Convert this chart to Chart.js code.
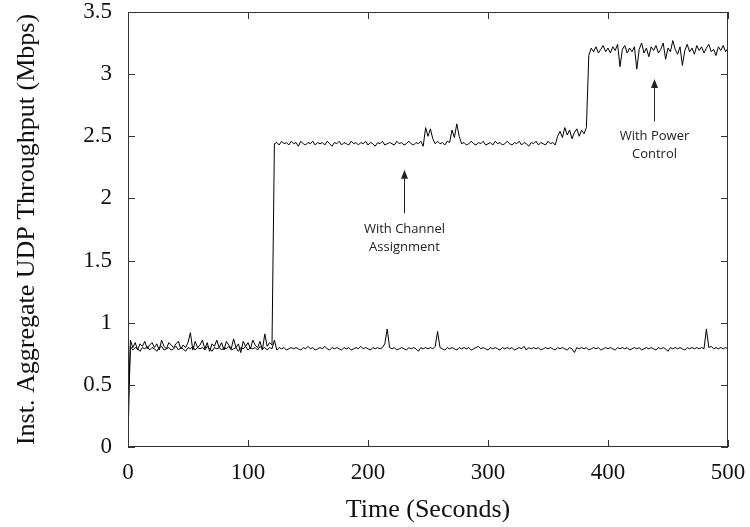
<!DOCTYPE html>
<html>
<head>
<meta charset="utf-8">
<script src="https://cdn.jsdelivr.net/npm/chart.js@4"></script>
<style>
  body { margin: 0; background: #fff; }
  canvas { display: block; }
</style>
</head>
<body>
<canvas id="throughput-chart" width="750" height="527"></canvas>
<script>
// samples every 2 seconds, 0..500 s
let sampleStep = 2;

// aggregate throughput with channel assignment + power control (Mbps)
let withControl = [
  0.05, 0.86, 0.80, 0.84, 0.78, 0.83, 0.81, 0.85, 0.79, 0.82,
  0.84, 0.80, 0.83, 0.78, 0.86, 0.81, 0.79, 0.84, 0.82, 0.80,
  0.83, 0.85, 0.79, 0.82, 0.80, 0.84, 0.92, 0.78, 0.85, 0.80,
  0.82, 0.86, 0.79, 0.84, 0.77, 0.83, 0.81, 0.86, 0.80, 0.84,
  0.78, 0.85, 0.82, 0.79, 0.87, 0.80, 0.83, 0.76, 0.85, 0.81,
  0.84, 0.79, 0.86, 0.82, 0.80, 0.85, 0.78, 0.91, 0.81, 0.84,
  0.82, 2.44, 2.45, 2.43, 2.46, 2.44, 2.45, 2.43, 2.46, 2.44,
  2.45, 2.42, 2.46, 2.44, 2.43, 2.45, 2.44, 2.46, 2.43, 2.45,
  2.44, 2.45, 2.43, 2.46, 2.44, 2.42, 2.45, 2.44, 2.46, 2.43,
  2.45, 2.44, 2.43, 2.46, 2.44, 2.45, 2.43, 2.45, 2.44, 2.46,
  2.43, 2.45, 2.44, 2.42, 2.45, 2.44, 2.46, 2.43, 2.44, 2.45,
  2.44, 2.43, 2.46, 2.44, 2.45, 2.43, 2.44, 2.46, 2.44, 2.43,
  2.45, 2.44, 2.46, 2.42, 2.57, 2.50, 2.56, 2.48, 2.44, 2.46,
  2.44, 2.45, 2.43, 2.46, 2.45, 2.55, 2.49, 2.60, 2.50, 2.44,
  2.45, 2.43, 2.44, 2.46, 2.44, 2.43, 2.45, 2.44, 2.46, 2.43,
  2.44, 2.45, 2.43, 2.46, 2.44, 2.45, 2.43, 2.44, 2.46, 2.44,
  2.43, 2.45, 2.44, 2.46, 2.43, 2.45, 2.44, 2.42, 2.45, 2.44,
  2.46, 2.43, 2.45, 2.44, 2.43, 2.46, 2.44, 2.45, 2.43, 2.50,
  2.54, 2.49, 2.57, 2.51, 2.55, 2.48, 2.53, 2.56, 2.50, 2.55,
  2.52, 2.57, 3.15, 3.21, 3.18, 3.22, 3.17, 3.20, 3.23, 3.18,
  3.21, 3.17, 3.22, 3.19, 3.24, 3.06, 3.20, 3.23, 3.17, 3.21,
  3.18, 3.22, 3.04, 3.20, 3.25, 3.17, 3.21, 3.14, 3.22, 3.19,
  3.23, 3.17, 3.20, 3.25, 3.12, 3.21, 3.18, 3.27, 3.20, 3.16,
  3.22, 3.07, 3.19, 3.24, 3.18, 3.21, 3.16, 3.23, 3.19, 3.22,
  3.17, 3.21, 3.24, 3.18, 3.20, 3.15, 3.22, 3.19, 3.23, 3.18,
  3.21
];

// aggregate throughput without any control (Mbps)
let baseline = [
  0.30, 0.81, 0.78, 0.80, 0.79, 0.77, 0.80, 0.79, 0.81, 0.78,
  0.80, 0.79, 0.77, 0.80, 0.81, 0.78, 0.79, 0.80, 0.78, 0.79,
  0.81, 0.78, 0.80, 0.79, 0.77, 0.80, 0.79, 0.81, 0.78, 0.80,
  0.79, 0.80, 0.78, 0.81, 0.79, 0.77, 0.80, 0.79, 0.80, 0.78,
  0.80, 0.79, 0.81, 0.78, 0.79, 0.80, 0.77, 0.80, 0.79, 0.81,
  0.78, 0.80, 0.79, 0.80, 0.78, 0.81, 0.79, 0.80, 0.78, 0.80,
  0.79, 0.86, 0.78, 0.80, 0.79, 0.80, 0.78, 0.79, 0.80, 0.79,
  0.80, 0.79, 0.78, 0.80, 0.79, 0.81, 0.79, 0.80, 0.78, 0.79,
  0.80, 0.79, 0.81, 0.79, 0.78, 0.80, 0.79, 0.80, 0.79, 0.78,
  0.80, 0.79, 0.80, 0.78, 0.79, 0.80, 0.79, 0.81, 0.79, 0.80,
  0.79, 0.78, 0.80, 0.79, 0.80, 0.79, 0.80, 0.83, 0.95, 0.80,
  0.79, 0.80, 0.78, 0.79, 0.80, 0.79, 0.78, 0.80, 0.79, 0.80,
  0.79, 0.77, 0.80, 0.79, 0.80, 0.79, 0.80, 0.79, 0.81, 0.93,
  0.80, 0.79, 0.78, 0.80, 0.79, 0.80, 0.79, 0.78, 0.80, 0.79,
  0.80, 0.79, 0.80, 0.78, 0.79, 0.80, 0.81, 0.79, 0.80, 0.79,
  0.78, 0.80, 0.79, 0.80, 0.79, 0.78, 0.80, 0.79, 0.80, 0.79,
  0.80, 0.78, 0.79, 0.80, 0.79, 0.81, 0.78, 0.80, 0.79, 0.80,
  0.79, 0.80, 0.78, 0.79, 0.80, 0.79, 0.80, 0.79, 0.78, 0.80,
  0.79, 0.80, 0.79, 0.78, 0.80, 0.79, 0.76, 0.80, 0.79, 0.80,
  0.79, 0.80, 0.78, 0.79, 0.80, 0.79, 0.80, 0.78, 0.79, 0.80,
  0.79, 0.80, 0.79, 0.78, 0.80, 0.79, 0.80, 0.79, 0.80, 0.78,
  0.79, 0.80, 0.79, 0.80, 0.78, 0.79, 0.80, 0.79, 0.80, 0.79,
  0.78, 0.80, 0.79, 0.80, 0.79, 0.77, 0.80, 0.79, 0.80, 0.79,
  0.80, 0.79, 0.78, 0.80, 0.79, 0.80, 0.79, 0.80, 0.79, 0.80,
  0.79, 0.95, 0.80, 0.81, 0.79, 0.80, 0.79, 0.80, 0.79, 0.80,
  0.79
];

// annotation positions in data units
let notes = [
  { t: 230, textY: 1.75, arrowFrom: 1.88, arrowTo: 2.23, lines: ["With Channel", "Assignment"] },
  { t: 438, textY: 2.50, arrowFrom: 2.62, arrowTo: 2.96, lines: ["With Power", "Control"] },
];

function toPoints(values) {
  return values.map((v, i) => ({ x: i * sampleStep, y: v }));
}

let frameAndNotes = {
  id: "frameAndNotes",
  afterDraw(chart) {
    let ctx = chart.ctx;
    let area = chart.chartArea;
    let xs = chart.scales.x;
    let ys = chart.scales.y;
    ctx.save();
    ctx.strokeStyle = "#333";
    ctx.lineWidth = 1;
    ctx.strokeRect(area.left + 0.5, area.top + 0.5, area.width - 1, area.height - 1);
    ctx.beginPath();
    xs.ticks.forEach((tk) => {
      let px = Math.round(xs.getPixelForValue(tk.value)) + 0.5;
      ctx.moveTo(px, area.bottom);
      ctx.lineTo(px, area.bottom - 7);
      ctx.moveTo(px, area.top);
      ctx.lineTo(px, area.top + 7);
    });
    ys.ticks.forEach((tk) => {
      let py = Math.round(ys.getPixelForValue(tk.value)) + 0.5;
      ctx.moveTo(area.left, py);
      ctx.lineTo(area.left + 7, py);
      ctx.moveTo(area.right, py);
      ctx.lineTo(area.right - 7, py);
    });
    ctx.stroke();

    // annotation arrows + labels
    ctx.fillStyle = "#222";
    ctx.strokeStyle = "#222";
    ctx.font = "13px 'Open Sans'";
    ctx.textAlign = "center";
    ctx.textBaseline = "middle";
    notes.forEach((n) => {
      let px = Math.round(xs.getPixelForValue(n.t)) + 0.5;
      let y0 = ys.getPixelForValue(n.arrowFrom);
      let y1 = ys.getPixelForValue(n.arrowTo);
      ctx.beginPath();
      ctx.moveTo(px, y0);
      ctx.lineTo(px, y1 + 6);
      ctx.stroke();
      ctx.beginPath();
      ctx.moveTo(px, y1);
      ctx.lineTo(px - 3.5, y1 + 9);
      ctx.lineTo(px + 3.5, y1 + 9);
      ctx.closePath();
      ctx.fill();
      let ty = ys.getPixelForValue(n.textY);
      n.lines.forEach((line, i) => {
        ctx.fillText(line, px, ty + i * 18);
      });
    });
    ctx.restore();
  },
};

let throughputChart = new Chart("throughput-chart", {
  type: "line",
  data: {
    datasets: [
      {
        label: "With control",
        data: toPoints(withControl),
        borderColor: "#000",
        borderWidth: 1,
        pointRadius: 0,
        tension: 0,
      },
      {
        label: "Baseline",
        data: toPoints(baseline),
        borderColor: "#000",
        borderWidth: 1,
        pointRadius: 0,
        tension: 0,
      },
    ],
  },
  options: {
    responsive: false,
    animation: false,
    layout: { padding: { top: 12, right: 22, left: 0, bottom: 0 } },
    plugins: {
      legend: { display: false },
      tooltip: { enabled: false },
    },
    scales: {
      x: {
        type: "linear",
        min: 0,
        max: 500,
        border: { display: false },
        grid: { display: false, drawTicks: false },
        ticks: {
          stepSize: 100,
          padding: 12,
          color: "#111",
          font: { family: "'Liberation Serif'", size: 23 },
        },
        title: {
          display: true,
          text: "Time (Seconds)",
          color: "#111",
          font: { family: "'Liberation Serif'", size: 26 },
          padding: { top: 0, bottom: 1 },
        },
        afterFit: (scale) => {
          scale.height = 80;
          scale.paddingLeft = 0;
          scale.paddingRight = 0;
        },
      },
      y: {
        min: 0,
        max: 3.5,
        border: { display: false },
        grid: { display: false, drawTicks: false },
        ticks: {
          stepSize: 0.5,
          padding: 16,
          color: "#111",
          font: { family: "'Liberation Serif'", size: 23 },
          callback: (v) => String(Number(v.toFixed(1))),
        },
        title: {
          display: true,
          text: "Inst. Aggregate UDP Throughput (Mbps)",
          color: "#111",
          font: { family: "'Liberation Serif'", size: 26 },
          padding: { top: 12, bottom: 0 },
        },
        afterFit: (scale) => {
          scale.width = 128;
          scale.paddingTop = 0;
          scale.paddingBottom = 0;
        },
      },
    },
  },
  plugins: [frameAndNotes],
});
</script>
</body>
</html>
